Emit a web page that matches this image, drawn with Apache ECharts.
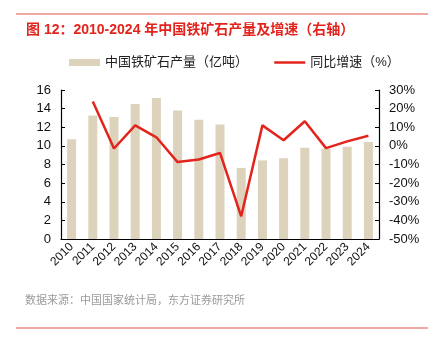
<!DOCTYPE html>
<html><head><meta charset="utf-8">
<script src="https://cdn.jsdelivr.net/npm/echarts@6/dist/echarts.min.js"></script>
<style>html,body{margin:0;padding:0;background:#fff}#c{width:432px;height:344px}</style>
</head><body><div id="c"></div>
<script>
const years = ['2010','2011','2012','2013','2014','2015','2016','2017','2018','2019','2020','2021','2022','2023','2024'];
const output = [10.72,13.27,13.09,14.51,15.14,13.81,12.81,12.29,7.63,8.44,8.67,9.81,9.68,9.90,10.42];
const growth = [null,23.8,-1.4,11.0,4.6,-8.7,-7.3,-3.8,-37.8,11.0,3.0,13.2,-1.2,2.4,5.4];
const leftTicks = {min:0,max:16,interval:2};
const rightTicks = {min:-50,max:30,interval:10};
const FONT = "'Liberation Sans','Noto Sans CJK SC',sans-serif";
const chart = echarts.init(document.getElementById('c'));
chart.setOption({
  animation:false,
  textStyle:{fontFamily:FONT},
  title:{text:'图 12：2010-2024 年中国铁矿石产量及增速（右轴）',left:21,top:18,
    textStyle:{color:'#e3241d',fontSize:14,fontWeight:'bold',fontFamily:FONT}},
  legend:{left:64,top:51,itemGap:25,itemWidth:31,itemHeight:7,
    textStyle:{fontSize:13,color:'#222',fontFamily:FONT},
    data:[{name:'中国铁矿石产量（亿吨）',icon:'rect'},
          {name:'同比增速（%）',itemStyle:{opacity:0},lineStyle:{color:'#e3241d',width:2.5}}]},
  grid:{left:61,right:53,top:90,bottom:105},
  xAxis:{type:'category',data:years,
    axisLine:{lineStyle:{color:'#000',width:1.2}},
    axisTick:{inside:true,length:4,lineStyle:{color:'#000'}},
    axisLabel:{rotate:45,fontSize:12,color:'#111',margin:6,interval:0}},
  yAxis:[
    {type:'value',min:leftTicks.min,max:leftTicks.max,interval:leftTicks.interval,
      axisLine:{show:true,lineStyle:{color:'#000',width:1.2}},
      axisTick:{show:true,inside:true,length:4,lineStyle:{color:'#000'}},
      splitLine:{show:false},axisLabel:{fontSize:13,color:'#111',margin:10}},
    {type:'value',min:rightTicks.min,max:rightTicks.max,interval:rightTicks.interval,
      axisLine:{show:true,lineStyle:{color:'#000',width:1.2}},
      axisTick:{show:true,inside:true,length:4,lineStyle:{color:'#000'}},
      splitLine:{show:false},axisLabel:{fontSize:13,color:'#111',margin:10,formatter:'{value}%'}}
  ],
  series:[
    {name:'中国铁矿石产量（亿吨）',type:'bar',data:output,barWidth:9,itemStyle:{color:'#ddd3bc'}},
    {name:'同比增速（%）',type:'line',yAxisIndex:1,data:growth,symbol:'none',showSymbol:false,
      lineStyle:{color:'#e3241d',width:2.5},itemStyle:{color:'#e3241d'}}
  ],
  graphic:[
    {type:'line',shape:{x1:16,y1:14,x2:428,y2:14},style:{stroke:'#ec8c84',lineWidth:1.5}},
    {type:'line',shape:{x1:16,y1:328,x2:428,y2:328},style:{stroke:'#ec8c84',lineWidth:1.5}},
    {type:'text',left:25,top:295,style:{text:'数据来源：中国国家统计局，东方证券研究所',fill:'#9a9a9a',fontSize:11,fontFamily:FONT}}
  ]
});
</script></body></html>
